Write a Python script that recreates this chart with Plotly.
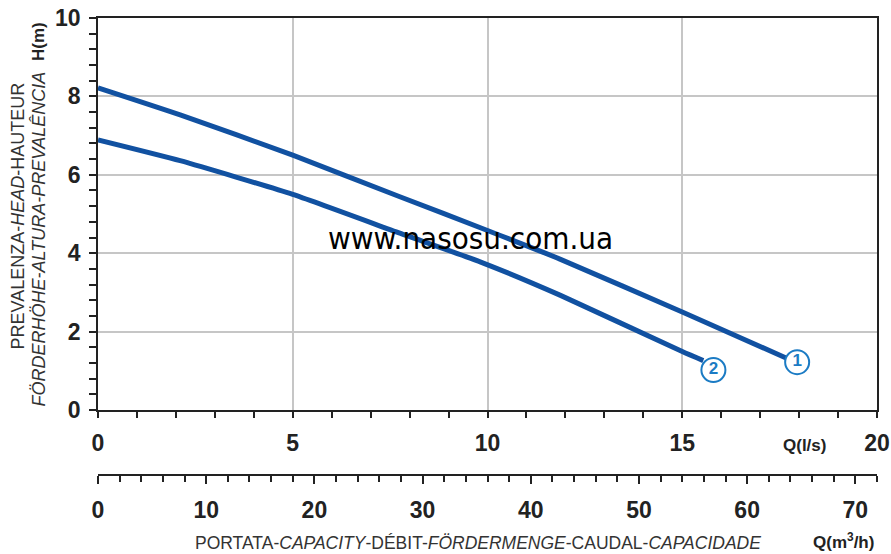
import plotly.graph_objects as go

# ---- data ----
q1 = [0, 2.11, 5, 7.75, 10, 11.86, 15, 17.68]          # l/s
h1 = [8.22, 7.53, 6.50, 5.44, 4.58, 3.85, 2.50, 1.32]  # m
q2 = [0, 2.11, 5, 7.75, 9.81, 11.86, 15, 15.54]
h2 = [6.89, 6.36, 5.50, 4.51, 3.78, 2.93, 1.49, 1.26]
label_q = [17.95, 15.80]
label_h = [1.22, 1.02]
label_txt = ["1", "2"]

W, H = 891, 554
ML, MR, MT, MB = 98, 14, 18, 79
PW, PH = W - ML - MR, H - MT - MB


def px2x(px):
    return (px - ML) / PW


def px2y(py):
    return (H - MB - py) / PH


LINE = "#1151a1"
CIRC = "#1b7bc4"
DARK = "#222222"
GRID = "#c6c6c6"
TXT = "#333333"
tickfont = dict(family="Liberation Sans, Arial, sans-serif", size=23, color=DARK, weight="bold")

fig = go.Figure()
fig.add_trace(go.Scatter(x=q1, y=h1, mode="lines", line=dict(color=LINE, width=5, shape="spline", smoothing=0.5),
                         showlegend=False, hoverinfo="skip"))
fig.add_trace(go.Scatter(x=q2, y=h2, mode="lines", line=dict(color=LINE, width=5, shape="spline", smoothing=0.5),
                         showlegend=False, hoverinfo="skip"))
fig.add_trace(go.Scatter(x=label_q, y=label_h, mode="markers+text", text=label_txt,
                         textposition="middle center",
                         textfont=dict(family="Liberation Sans, Arial", size=17, color=CIRC, weight="bold"),
                         marker=dict(size=24, color="white", line=dict(color=CIRC, width=2)),
                         showlegend=False, hoverinfo="skip", cliponaxis=False))
# invisible trace to carry the m3/h axis
fig.add_trace(go.Scatter(x=[0, 72], y=[0, 0], xaxis="x2", mode="lines", line=dict(width=0),
                         opacity=0, showlegend=False, hoverinfo="skip"))

ydom0 = px2y(410)

fig.update_layout(
    width=W, height=H,
    margin=dict(l=ML, r=MR, t=MT, b=MB, autoexpand=False),
    paper_bgcolor="white", plot_bgcolor="white",
    xaxis=dict(range=[0, 20], dtick=5, showgrid=True, gridcolor=GRID, gridwidth=1.5,
               zeroline=False, showline=True, linecolor=DARK, linewidth=1.5, mirror=True,
               ticks="outside", ticklen=6, tickwidth=1.5, tickcolor=DARK,
               minor=dict(dtick=1, ticks="outside", ticklen=6, tickwidth=1.5, tickcolor=DARK, showgrid=False),
               tickfont=tickfont, ticklabelstandoff=6, anchor="y", automargin=False,
               ticklabeloverflow="allow"),
    yaxis=dict(range=[0, 10], dtick=2, domain=[ydom0, 1], showgrid=True, gridcolor=GRID, gridwidth=1.5,
               zeroline=False, showline=True, linecolor=DARK, linewidth=1.5, mirror=True,
               ticks="outside", ticklen=7, tickwidth=1.5, tickcolor=DARK,
               minor=dict(dtick=0.4, ticks="outside", ticklen=7, tickwidth=1.5, tickcolor=DARK, showgrid=False),
               tickfont=tickfont, ticklabelstandoff=4, automargin=False, ticklabeloverflow="allow"),
    xaxis2=dict(range=[0, 72], dtick=10, overlaying="x", anchor="free", position=0, side="bottom",
                showgrid=False, zeroline=False, showline=True, linecolor=DARK, linewidth=1.5,
                ticks="outside", ticklen=8, tickwidth=1.5, tickcolor=DARK,
                minor=dict(dtick=2, ticks="outside", ticklen=6, tickwidth=1.5, tickcolor=DARK, showgrid=False),
                tickfont=tickfont, ticklabelstandoff=7, automargin=False, ticklabeloverflow="allow"),
)

ann = []
ann.append(dict(text="<b>H(m)</b>", x=px2x(38), y=px2y(41), textangle=-90,
                font=dict(family="Liberation Sans, Arial", size=17, color=DARK)))
ann.append(dict(text="PREVALENZA-<i>HEAD</i>-HAUTEUR", x=px2x(17), y=px2y(81), yanchor="top", textangle=-90,
                font=dict(family="Liberation Sans, Arial", size=18, color=TXT)))
ann.append(dict(text="<i>FÖRDERHÖHE-ALTURA-PREVALÊNCIA</i>", x=px2x(39), y=px2y(70), yanchor="top", textangle=-90,
                font=dict(family="Liberation Sans, Arial", size=18, color=TXT)))
ann.append(dict(text="<b>Q(l/s)</b>", x=px2x(804), y=px2y(445),
                font=dict(family="Liberation Sans, Arial", size=17, color=DARK)))
ann.append(dict(text="<b>Q(m<sup>3</sup>/h)</b>", x=px2x(843), y=px2y(541),
                font=dict(family="Liberation Sans, Arial", size=17, color=DARK)))
ann.append(dict(text="PORTATA-<i>CAPACITY</i>-DÉBIT-<i>FÖRDERMENGE</i>-CAUDAL-<i>CAPACIDADE</i>",
                x=px2x(478), y=px2y(543),
                font=dict(family="Liberation Sans, Arial", size=17.5, color=TXT)))
ann.append(dict(text="www.nasosu.com.ua", x=px2x(470), y=px2y(238),
                font=dict(family="DejaVu Sans Condensed, Liberation Sans Narrow", size=31, color="black")))

for a in ann:
    a.update(xref="paper", yref="paper", showarrow=False)
    a.setdefault("xanchor", "center")
    a.setdefault("yanchor", "middle")
fig.update_layout(annotations=ann)

fig.write_html("out.html", config={"displayModeBar": False},
               post_script="document.body.style.margin='0';document.body.style.overflow='hidden';")
